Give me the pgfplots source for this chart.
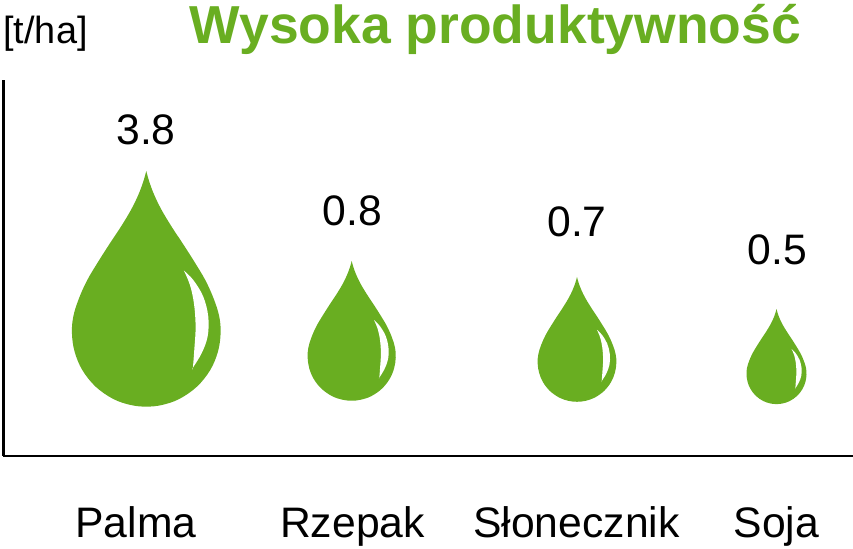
\documentclass[border=0pt]{standalone}
\usepackage{pgfplots}
\usepackage{pgfplotstable}
\usepackage{fontspec}
\setmainfont{Liberation Sans}
\pgfplotsset{compat=1.18}
\definecolor{drop}{HTML}{69AE21}
\pgfplotstableread{
x y
259 33
268 65
283 105
305 150
335 200
370 253
405 308
437 362
462 418
478 470
482 520
474 575
451 630
411 680
358 717
306 735
259 740
212 735
160 717
107 680
67 630
44 575
36 520
40 470
56 418
81 362
113 308
148 253
183 200
213 150
235 105
250 65
259 33
}\dropshape
\pgfplotstableread{
x y
372 332
400 360
430 410
445 470
443 530
425 580
399 623
399 623
403 570
407 500
402 430
390 375
372 332
}\dropshine
\newcommand{\drop}[3]{%
 \addplot[fill=drop,draw=none,smooth,tension=0.6] table[x expr={#1+#3*(\thisrow{x}-259)},y expr={549-(#2+#3*(\thisrow{y}-33))}] {\dropshape};
 \addplot[fill=white,draw=none,smooth,tension=0.6] table[x expr={#1+#3*(\thisrow{x}-259)},y expr={549-(#2+#3*(\thisrow{y}-33))}] {\dropshine};
}
\begin{document}
\begin{tikzpicture}[x=1pt,y=1pt]
\path[use as bounding box] (0,0) rectangle (639.75pt,411.75pt);
\begin{axis}[
 at={(2.6pt,69.75pt)},anchor=south west,scale only axis,
 width=637.15pt,height=282pt,
 xmin=3.5,xmax=853,ymin=93,ymax=469,
 axis x line*=bottom,axis y line*=left,
 axis line style={line width=2.2pt,black,-},
 clip=false,
 ytick=\empty,
 xtick={136,352.5,576.5,776.5},
 xticklabels={Palma,Rzepak,Słonecznik,Soja},
 major tick length=0pt,
 xticklabel style={font=\fontsize{32}{32}\selectfont,anchor=base,yshift=-61pt},
 cycle list name=black white,
]
\drop{146.3}{171}{0.3333}
\drop{351.7}{261}{0.1976}
\drop{577}{277}{0.1765}
\drop{776.5}{309}{0.1345}
\node[anchor=base,font=\fontsize{32}{32}\selectfont] at (axis cs:146,404) {3.8};
\node[anchor=base,font=\fontsize{32}{32}\selectfont] at (axis cs:352.5,323) {0.8};
\node[anchor=base,font=\fontsize{32}{32}\selectfont] at (axis cs:577,312) {0.7};
\node[anchor=base,font=\fontsize{32}{32}\selectfont] at (axis cs:777.5,284) {0.5};
\node[anchor=base,font=\fontsize{28.4}{28}\selectfont] at (axis cs:45.5,505) {[t/ha]};
\node[anchor=base,font=\fontsize{40.1}{40}\selectfont\bfseries,text=drop] at (axis cs:495.5,505) {Wysoka produktywność};
\end{axis}
\end{tikzpicture}
\end{document}
